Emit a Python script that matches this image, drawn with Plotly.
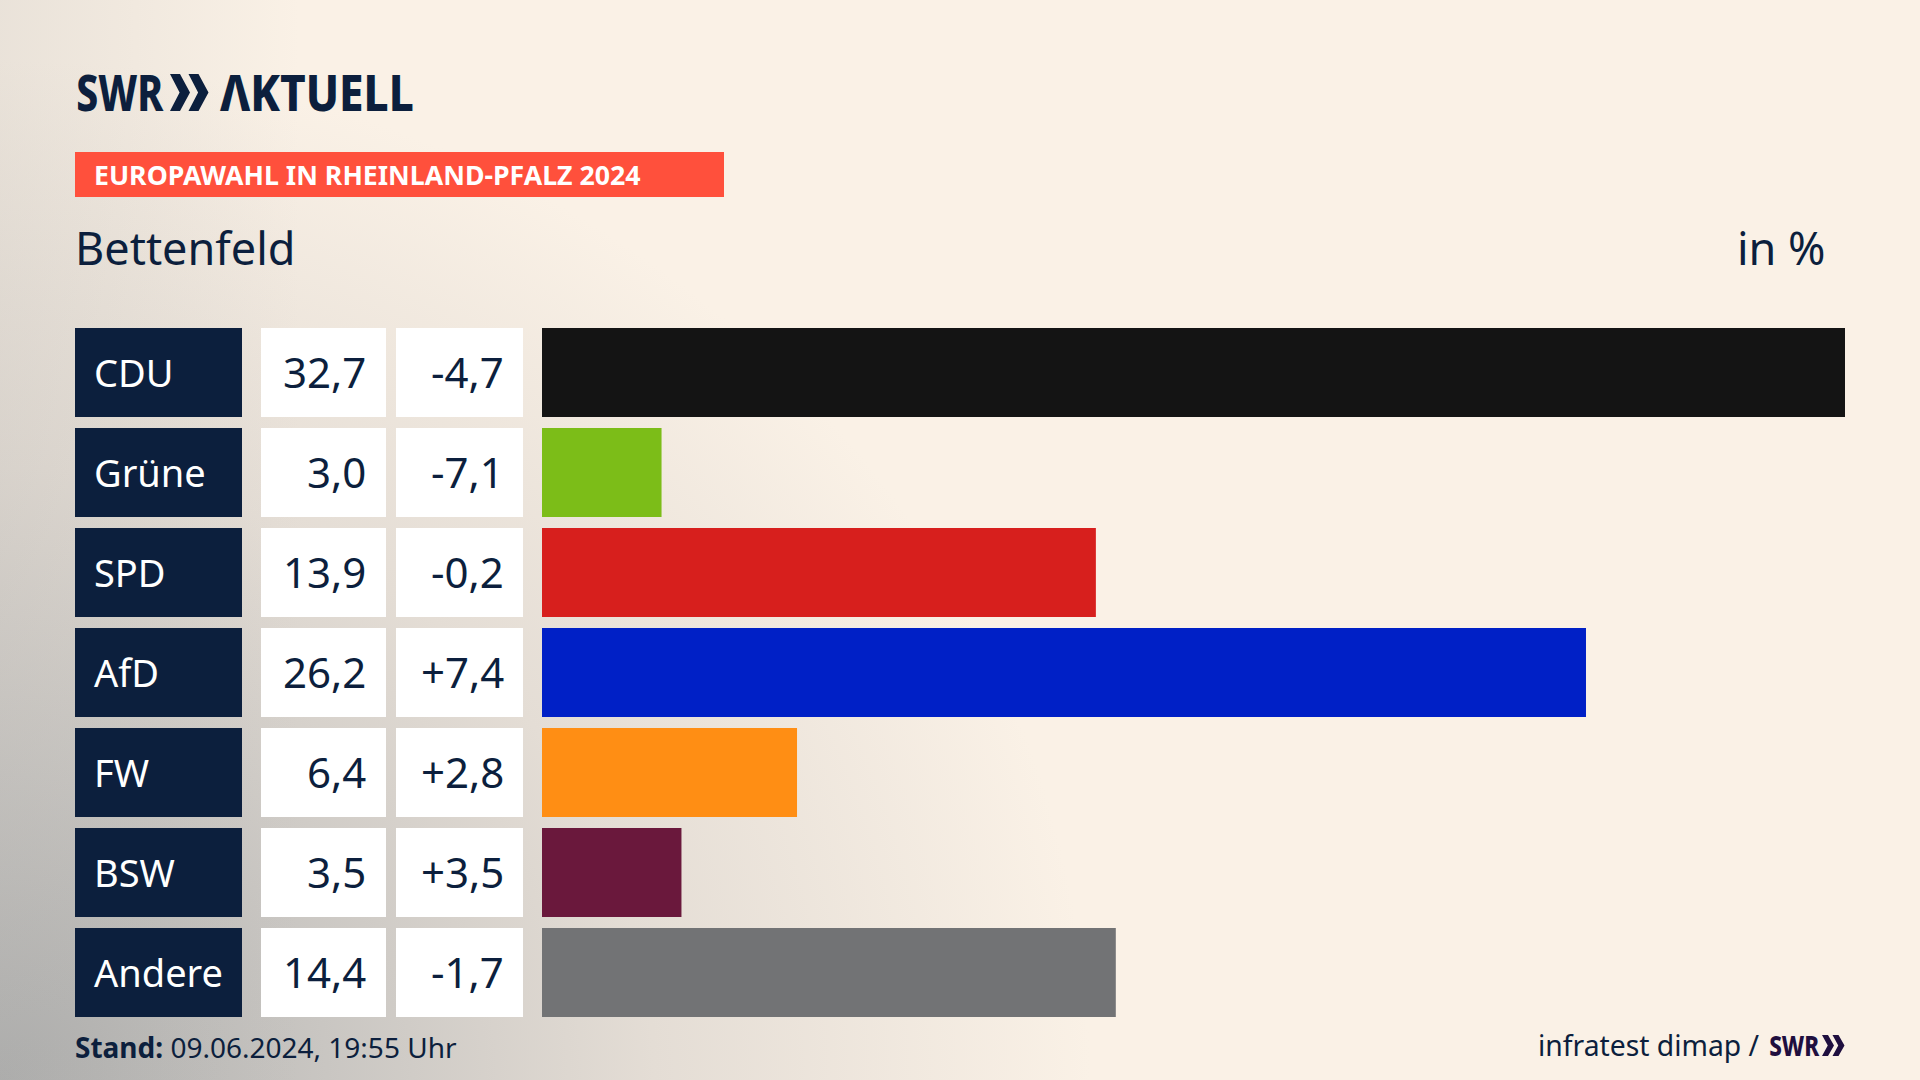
import base64
import plotly.graph_objects as go

# Values
parties = ["CDU", "Grüne", "SPD", "AfD", "FW", "BSW", "Andere"]
shares = [32.7, 3.0, 13.9, 26.2, 6.4, 3.5, 14.4]
share_labels = ["32,7", "3,0", "13,9", "26,2", "6,4", "3,5", "14,4"]
diff_labels = ["-4,7", "-7,1", "-0,2", "+7,4", "+2,8", "+3,5", "-1,7"]
bar_colors = ["#141414", "#7CBD18", "#D71F1D", "#0020C6", "#FF8E14", "#6A183C", "#727375"]

W, H = 1920, 1080
NAVY = "#0C1F3D"
FONT = "Noto Sans"


def fx(px):
    return px / W


def fy(py):
    return 1 - py / H


def chevrons(x0, top, bottom, w, gap, color):
    # the two arrows of the SWR logo
    mid = (top + bottom) / 2
    out = []
    for i in range(2):
        a = x0 + i * gap
        d = (f"M{fx(a)},{fy(top)} L{fx(a + w * 0.5)},{fy(top)} L{fx(a + w)},{fy(mid)} "
             f"L{fx(a + w * 0.5)},{fy(bottom)} L{fx(a)},{fy(bottom)} L{fx(a + w * 0.48)},{fy(mid)} Z")
        out.append(dict(type="path", path=d, xref="paper", yref="paper",
                        fillcolor=color, line=dict(width=0)))
    return out


# Soft grey glow from the lower left corner, a little extra along the left edge
svg = f"""<svg xmlns="http://www.w3.org/2000/svg" width="{W}" height="{H}">
<defs><radialGradient id="g" gradientUnits="userSpaceOnUse" cx="0" cy="0" r="1"
 gradientTransform="translate(0 1080) scale(1090 1020)">
<stop offset="0" stop-color="#AEAEAD"/><stop offset="0.3" stop-color="#C9C6C2"/>
<stop offset="0.6" stop-color="#E4DDD5"/><stop offset="1" stop-color="#FAF1E6"/>
</radialGradient>
<linearGradient id="e" x1="0" y1="0" x2="1" y2="0">
<stop offset="0" stop-color="#A8A8A6" stop-opacity="0.2"/><stop offset="1" stop-color="#A8A8A6" stop-opacity="0"/>
</linearGradient></defs>
<rect width="{W}" height="{H}" fill="#FAF1E6"/><rect width="{W}" height="{H}" fill="url(#g)"/>
<rect width="300" height="{H}" fill="url(#e)"/></svg>"""
bg_src = "data:image/svg+xml;base64," + base64.b64encode(svg.encode()).decode()

fig = go.Figure()

# Party name box, share box, change box and the result bar, each on its own x axis
ones = [1] * len(parties)
fig.add_trace(go.Bar(x=ones, y=parties, orientation="h", marker_color=NAVY, xaxis="x2"))
fig.add_trace(go.Bar(x=ones, y=parties, orientation="h", marker_color="white", xaxis="x3"))
fig.add_trace(go.Bar(x=ones, y=parties, orientation="h", marker_color="white", xaxis="x4"))
fig.add_trace(go.Bar(x=shares, y=parties, orientation="h", marker_color=bar_colors, xaxis="x"))
fig.update_traces(marker_line_width=0, width=0.89, hoverinfo="skip", showlegend=False)


def hidden_x(left, right, top_range):
    return dict(domain=[fx(left), fx(right)], range=[0, top_range], visible=False, anchor="y")


annotations = []


def note(text, x, y, size, anchor="left", color=NAVY, yref="paper", weight=None, yshift=0):
    annotations.append(dict(text=text, x=x, y=y, xref="paper", yref=yref, xanchor=anchor,
                            yanchor="middle", showarrow=False, yshift=yshift,
                            font=dict(size=size, color=color, family=FONT, weight=weight)))


for party, share, diff in zip(parties, share_labels, diff_labels):
    note(party, fx(91.5), party, 38, color="white", yref="y", yshift=1)
    note(share, fx(368), party, 42, anchor="right", yref="y", yshift=1)
    note(diff, fx(506), party, 42, anchor="right", yref="y", yshift=1)

note("SWR", fx(119.5), fy(92), 50, anchor="center", weight=800)
note("ΛKTUELL", fx(316.5), fy(92), 50, anchor="center", weight=800)
note("<b>EUROPAWAHL IN RHEINLAND-PFALZ 2024</b>", fx(92), fy(175), 26.7, color="white")
note("Bettenfeld", fx(73), fy(247), 45)
note("in %", fx(1828), fy(247), 45, anchor="right")
note("<b>Stand:</b> 09.06.2024, 19:55 Uhr", fx(73), fy(1047), 28)
note("infratest dimap /", fx(1762), fy(1045), 28.3, anchor="right")
note("SWR", fx(1794), fy(1045), 28, anchor="center", color="#1F0F3F", weight=800)

shapes = [dict(type="rect", xref="paper", yref="paper", x0=fx(75), x1=fx(724), y0=fy(197), y1=fy(152),
               fillcolor="#FF503C", line=dict(width=0))]
shapes += chevrons(170, 74, 111, 20, 18.5, NAVY)
shapes += chevrons(1822, 1035, 1056, 12, 10.5, "#1F0F3F")

fig.update_layout(
    width=W,
    height=H,
    margin=dict(l=0, r=0, t=0, b=0),
    paper_bgcolor="#FAF1E6",
    plot_bgcolor="rgba(0,0,0,0)",
    barmode="overlay",
    xaxis=hidden_x(542, 1845, 32.7),
    xaxis2=hidden_x(75, 242, 1),
    xaxis3=hidden_x(261, 386, 1),
    xaxis4=hidden_x(396, 523, 1),
    yaxis=dict(domain=[fy(1022.5), fy(322.5)], autorange="reversed", visible=False,
               categoryorder="array", categoryarray=parties),
    images=[dict(source=bg_src, xref="paper", yref="paper", x=0, y=1, sizex=1, sizey=1,
                 xanchor="left", yanchor="top", sizing="stretch", layer="below")],
    shapes=shapes,
    annotations=annotations,
)

# No page margin, and squeeze the logo words to the narrow letters of the original
post = """
document.body.style.margin = '0';
document.querySelectorAll('.annotation-text').forEach(function (t) {
  var w = null;
  if (t.textContent === 'ΛKTUELL') { w = 194; }
  if (t.textContent === 'SWR') { w = t.getBBox().width > 80 ? 87 : 50; }
  if (w) {
    t.setAttribute('textLength', w);
    t.setAttribute('lengthAdjust', 'spacingAndGlyphs');
  }
});
"""
fig.write_html("out.html", post_script=post, config=dict(displayModeBar=False))
